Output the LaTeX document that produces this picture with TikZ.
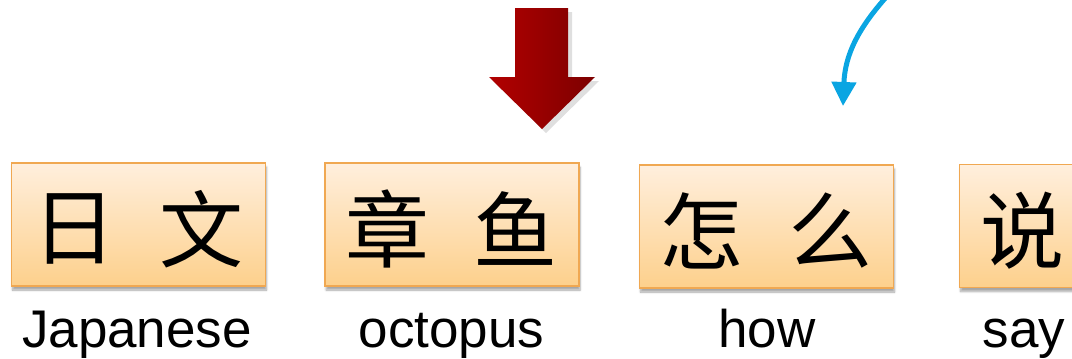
\documentclass[tikz,border=0pt]{standalone}
\usepackage{fontspec}
\setmainfont{Liberation Sans}
\newfontfamily\cjk{Noto Sans CJK SC}
\usetikzlibrary{arrows.meta,shadows.blur}
\definecolor{boxtop}{HTML}{FFEFDD}
\definecolor{boxbot}{HTML}{FDD08C}
\definecolor{boxline}{HTML}{F0A852}
\definecolor{arrowblue}{HTML}{0AA5E2}
\definecolor{redL}{HTML}{B20000}
\definecolor{redR}{HTML}{7C0000}
\begin{document}
\begin{tikzpicture}[x=1pt,y=-1pt,
 wordbox/.style={draw=boxline, line width=1.6pt, top color=boxtop, bottom color=boxbot,
   minimum width=254pt, minimum height=123pt, inner sep=0pt,
   blur shadow={shadow xshift=1pt, shadow yshift=-4pt, shadow blur steps=6, shadow opacity=35}},
 hanzi/.style={font=\cjk\fontsize{84}{84}\selectfont, inner sep=0pt},
 gloss/.style={font=\fontsize{53}{53}\selectfont, anchor=base, inner sep=0pt}]
\useasboundingbox (0,0) rectangle (1072,359);
\clip (0,0) rectangle (1072,359);

% red down arrow
\fill[gray, opacity=0.25] (519,12) -- (572,12) -- (572,81) -- (599,81) -- (546,133) -- (493,81) -- (519,81) -- cycle;
\shade[left color=redL, right color=redR] (515,8) -- (568,8) -- (568,77) -- (595,77) -- (542,129) -- (489,77) -- (515,77) -- cycle;

% blue curved arrow
\coordinate (bs) at (889,-6);
\coordinate (be) at (843,106);
\draw[arrowblue, line width=5pt, -{Triangle[width=24pt,length=24pt]}] (bs) .. controls (858,28) and (845,55) .. (be);

% boxes
\node[wordbox] (b1) at (138.5,224.5) {};
\node[wordbox] (b2) at (452,224.5) {};
\node[wordbox] (b3) at (766.5,226.5) {};
\node[wordbox] (b4) at (1086.5,226) {};

% characters
\node[hanzi] (c1a) at (74.5,229) {日};
\node[hanzi] (c1b) at (201.5,229) {文};
\node[hanzi] (c2a) at (387,229) {章};
\node[hanzi] (c2b) at (515.5,229) {鱼};
\node[hanzi] (c3a) at (701.5,231) {怎};
\node[hanzi] (c3b) at (830,231) {么};
\node[hanzi] (c4a) at (1022.5,231) {说};

% glosses
\node[gloss] (g1) at (137,347) {Japanese};
\node[gloss] (g2) at (451.5,347) {octopus};
\node[gloss] (g3) at (767,347) {how};
\node[gloss] (g4) at (1024,347) {say};
\end{tikzpicture}
\end{document}
